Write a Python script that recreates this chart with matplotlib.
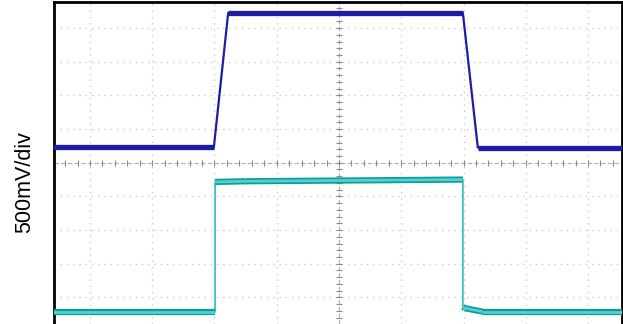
import numpy as np
import matplotlib.pyplot as plt

# scope traces, in divisions (x: time div, y: vertical div, 0 = screen centre)
ch1_t = [-4.6, -2.01, -1.78, 1.99, 2.23, 4.6]
ch1_v = [0.46, 0.46, 4.45, 4.45, 0.45, 0.45]

ch2_t = [-4.6, -1.99, -1.99, -1.5, 1.99, 1.99, 2.02, 2.3, 4.6]
ch2_v = [-4.42, -4.42, -0.57, -0.55, -0.50, -4.28, -4.32, -4.42, -4.42]

ylabel = '500mV/div'


def flat_parts(t, v):
    # segments where the trace sits on a level (noisy band looks thick there)
    out = []
    for i in range(len(t) - 1):
        if abs(v[i+1] - v[i]) < 0.3:
            out.append(([t[i], t[i+1]], [v[i], v[i+1]]))
    return out


fig = plt.figure(figsize=(6.23, 3.24), dpi=100)
ax = fig.add_axes([53.5/623, 0.0, (621.5-53.5)/623, 1 - 1.5/324])
ax.set_xlim(-4.586, 4.538)
ax.set_ylim(-4.79, 4.79)

# graticule
grid_c = '#c4c4c4'
for gx in range(-4, 5):
    if gx != 0:
        ax.axvline(gx, color=grid_c, lw=0.9, ls=(0, (1, 4)), zorder=1)
for gy in range(-4, 5):
    if gy != 0:
        ax.axhline(gy, color=grid_c, lw=0.9, ls=(0, (1, 4)), zorder=1)
ax.axhline(0, color='#b0b0b0', lw=0.8, ls=(0, (4, 2)), zorder=1)
ax.axvline(0, color='#b0b0b0', lw=0.8, ls=(0, (4, 2)), zorder=1)
tx = np.arange(-23, 23) * 0.2
ty = np.arange(-24, 25) * 0.2
ax.plot(tx, np.zeros_like(tx), '|', ms=5, mew=0.8, color='#8a8a8a', zorder=1)
ax.plot(np.zeros_like(ty), ty, '_', ms=5, mew=0.8, color='#8a8a8a', zorder=1)

# channel 2 (cyan)
ax.plot(ch2_t, ch2_v, color='#3cc4c4', lw=1.3, zorder=3)
for xs, ys in flat_parts(ch2_t, ch2_v):
    ax.plot(xs, ys, color='#139a9a', lw=4.5, solid_capstyle='butt', zorder=3)
    ax.plot(xs, ys, color='#4fd2d2', lw=2.0, solid_capstyle='butt', zorder=4)

# channel 1 (blue)
ax.plot(ch1_t, ch1_v, color='#1c1ca4', lw=1.6, zorder=5)
for xs, ys in flat_parts(ch1_t, ch1_v):
    ax.plot(xs, ys, color='#1c1ca4', lw=3.8, solid_capstyle='butt', zorder=5)

ax.set_xticks([])
ax.set_yticks([])
for s in ['left', 'right', 'top']:
    ax.spines[s].set_linewidth(2.0)
    ax.spines[s].set_color('black')
ax.spines['bottom'].set_visible(False)

fig.text(25/623, 1 - 182/324, ylabel, rotation=90, ha='center', va='center',
         fontsize=15.5, family='Liberation Sans')

fig.savefig('out.png', dpi=100)
